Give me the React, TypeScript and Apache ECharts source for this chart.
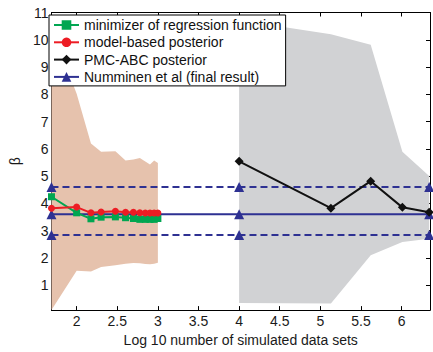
import React, { useEffect, useRef } from "react";
import * as echarts from "echarts";

const X_MIN = 1.69;
const X_MAX = 6.35;
const Y_MIN = 0.08;
const Y_MAX = 11;

// Log10 number of simulated data sets, regression / model-based runs
const modelX = [1.69, 2.0, 2.176, 2.301, 2.477, 2.602, 2.699, 2.778, 2.845, 2.903, 2.954, 3.0];
const regressionBeta = [4.24, 3.65, 3.43, 3.49, 3.5, 3.47, 3.44, 3.41, 3.41, 3.41, 3.41, 3.44];
const modelBeta = [3.82, 3.86, 3.65, 3.68, 3.71, 3.67, 3.67, 3.65, 3.64, 3.64, 3.64, 3.64];
const modelUpper = [10.44, 8.02, 6.19, 5.89, 5.91, 5.57, 5.61, 5.66, 5.53, 5.42, 5.57, 5.48];
const modelLower = [0.08, 1.52, 1.5, 1.66, 1.73, 1.78, 1.81, 1.8, 1.77, 1.76, 1.78, 1.82];

// PMC-ABC runs
const abcX = [4.0, 5.13, 5.62, 6.01, 6.34];
const abcBeta = [5.54, 3.82, 4.81, 3.85, 3.67];
const abcUpper = [10.72, 10.2, 9.82, 5.89, 5.0];
const abcLower = [0.34, 0.32, 2.09, 2.58, 2.7];

// Numminen et al (final result)
const numminenX = [1.69, 4.0, 6.34];
const numminenBeta = [3.6, 3.6, 3.6];
const numminenUpper = [4.6, 4.6, 4.6];
const numminenLower = [2.84, 2.84, 2.84];

const legendNames = [
  "minimizer of regression function",
  "model-based posterior",
  "PMC-ABC posterior",
  "Numminen et al (final result)",
];

const FONT = "'Liberation Sans', Arial, Helvetica, sans-serif";
const GREEN = "#00a651";
const RED = "#ed1c24";
const BLACK = "#111111";
const BLUE = "#2e3192";
const PEACH = "#e6c2ad";
const GRAY = "#d1d2d4";

const zip = (xs: number[], ys: number[]) => xs.map((x, i) => [x, ys[i]]);

function band(xs: number[], upper: number[], lower: number[], color: string) {
  return {
    type: "custom",
    coordinateSystem: "cartesian2d",
    silent: true,
    z: 1,
    data: [[xs[0], lower[0]]],
    encode: { x: 0, y: 1 },
    renderItem: (_params: any, api: any) => {
      const pts: number[][] = [];
      xs.forEach((x, i) => pts.push(api.coord([x, upper[i]])));
      for (let i = xs.length - 1; i >= 0; i--) pts.push(api.coord([xs[i], lower[i]]));
      return { type: "polygon", shape: { points: pts }, style: { fill: color } };
    },
  };
}

export default function App() {
  const ref = useRef<HTMLDivElement>(null);
  useEffect(() => {
    if (!ref.current) return;
    const chart = echarts.init(ref.current, null, { renderer: "svg" });
    const axisCommon = {
      axisLine: { show: true, onZero: false, lineStyle: { color: "#000", width: 1 } },
      axisTick: { show: true, inside: true, length: 4, lineStyle: { color: "#000", width: 1 } },
      splitLine: { show: false },
    };
    const xLabelFmt = (v: number) =>
      Math.abs(v * 2 - Math.round(v * 2)) < 1e-6 ? String(Math.round(v * 10) / 10) : "";
    const yLabelFmt = (v: number) => (Math.abs(v - Math.round(v)) < 1e-6 ? String(Math.round(v)) : "");
    const xBase = {
      type: "value",
      min: X_MIN,
      max: X_MAX,
      splitNumber: 9,
      minInterval: 0.5,
      maxInterval: 0.5,
      ...axisCommon,
    };
    const yBase = {
      type: "value",
      min: Y_MIN,
      max: Y_MAX,
      splitNumber: 11,
      minInterval: 1,
      maxInterval: 1,
      ...axisCommon,
    };
    const numminenStyle = (name: string, dashed: boolean) => ({
      name,
      type: "line",
      data: zip(numminenX, dashed ? (name === "upper" ? numminenUpper : numminenLower) : numminenBeta),
      color: BLUE,
      symbol: "triangle",
      symbolSize: 10,
      lineStyle: { color: BLUE, width: 2, type: dashed ? [7, 4] : "solid" },
      itemStyle: { color: BLUE },
      z: 3,
    });
    chart.setOption({
      animation: false,
      grid: { left: 45, right: 0, top: 12.5, bottom: 31.3, containLabel: false },
      xAxis: [
        {
          ...xBase,
          position: "bottom",
          axisLabel: { formatter: xLabelFmt, fontSize: 14, color: "#1a1a1a", fontFamily: FONT, margin: 4 },
          name: "Log 10 number of simulated data sets",
          nameLocation: "middle",
          nameGap: 17,
          nameTextStyle: { fontSize: 14, color: "#1a1a1a", fontFamily: FONT },
        },
        { ...xBase, position: "top", axisLabel: { show: false } },
      ],
      yAxis: [
        {
          ...yBase,
          position: "left",
          axisLabel: { formatter: yLabelFmt, fontSize: 14, color: "#1a1a1a", fontFamily: FONT, margin: 3 },
          name: "β",
          nameLocation: "middle",
          nameGap: 20,
          nameTextStyle: { fontSize: 14, color: "#1a1a1a", fontFamily: FONT },
        },
        { ...yBase, position: "right", axisLabel: { show: false } },
      ],
      legend: {
        orient: "vertical",
        left: 49,
        top: 15,
        data: legendNames,
        selectedMode: false,
        itemWidth: 25,
        itemHeight: 12,
        itemGap: 3.3,
        padding: [3, 4, 2, 4],
        backgroundColor: "#fff",
        borderColor: "#000",
        borderWidth: 1,
        borderRadius: 0,
        textStyle: { fontSize: 14, color: "#111", fontFamily: FONT },
        z: 20,
      },
      series: [
        band(modelX, modelUpper, modelLower, PEACH),
        band(abcX, abcUpper, abcLower, GRAY),
        numminenStyle("upper", true),
        numminenStyle("lower", true),
        numminenStyle(legendNames[3], false),
        {
          name: legendNames[0],
          type: "line",
          data: zip(modelX, regressionBeta),
          color: GREEN,
          symbol: "rect",
          symbolSize: 7,
          lineStyle: { color: GREEN, width: 2 },
          itemStyle: { color: GREEN },
          z: 4,
        },
        {
          name: legendNames[1],
          type: "line",
          data: zip(modelX, modelBeta),
          color: RED,
          symbol: "circle",
          symbolSize: 7,
          lineStyle: { color: RED, width: 2 },
          itemStyle: { color: RED },
          z: 5,
        },
        {
          name: legendNames[2],
          type: "line",
          data: zip(abcX, abcBeta),
          color: BLACK,
          symbol: "diamond",
          symbolSize: 9,
          lineStyle: { color: BLACK, width: 2 },
          itemStyle: { color: BLACK },
          z: 5,
        },
      ],
    });
    return () => chart.dispose();
  }, []);
  return (
    <div
      ref={ref}
      style={{ position: "absolute", left: 0, top: 0, width: 433, height: 352, background: "#fff" }}
    />
  );
}
